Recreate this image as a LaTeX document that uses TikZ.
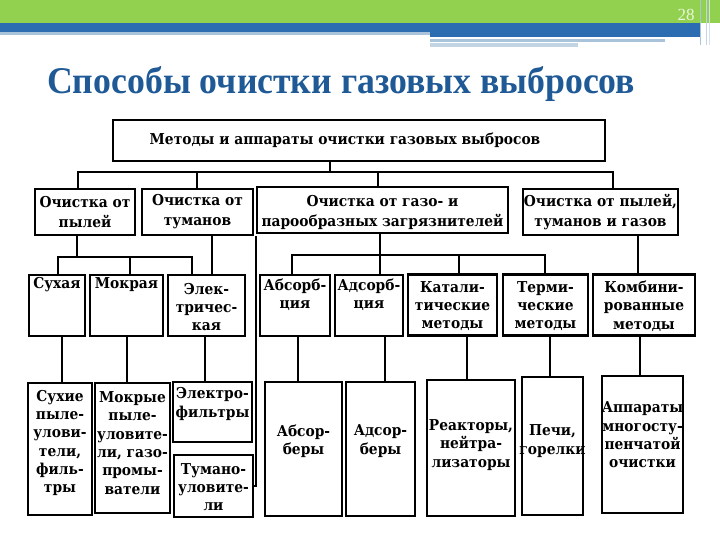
\documentclass[tikz,border=0pt]{standalone}
\usepackage{fontspec}
\setmainfont{Liberation Serif}
\newfontfamily\dgfont{DejaVu Serif}[FakeStretch=0.92]
\usepackage{graphicx}
\definecolor{slgreen}{HTML}{92D050}
\definecolor{slblue}{HTML}{2C6DB2}
\definecolor{sllight}{HTML}{A9C3DA}
\definecolor{sltitle}{HTML}{1F5A96}
\definecolor{slnum}{HTML}{EAF6DA}
\begin{document}
\begin{tikzpicture}[x=1pt,y=-1pt,
  bx/.style={draw, line width=2.4pt, inner sep=0pt},
  tx/.style={align=center, inner sep=0pt, font=\dgfont\bfseries\fontsize{15}{18.3}\selectfont},
  tw/.style={tx, font=\dgfont\bfseries\fontsize{15}{20}\selectfont},
  ln/.style={line width=1.5pt}]
\useasboundingbox (0,0) rectangle (720,540);
\fill[white] (0,0) rectangle (720,540);
% slide header
\fill[slgreen] (0,0) rectangle (720,23);
\fill[slblue] (0,23) rectangle (700,32);
\fill[sllight] (0,32) rectangle (430,35);
\fill[slblue] (430,32) rectangle (700,37);
\fill[sllight] (430,39) rectangle (665,42);
\fill[sllight!70] (430,43) rectangle (578,47);
\draw[sllight, line width=1pt] (700,0) -- (700,45);
\draw[sllight!70, line width=1pt] (706,0) -- (706,45);
\draw[sllight!50, line width=1pt] (709,0) -- (709,45);
\node[text=slnum, font=\fontsize{17}{17}\selectfont, inner sep=0pt] (pg) at (686,15) {28};
\node[anchor=base west, inner sep=0pt, text=sltitle] (title) at (47,94)
  {\resizebox{588pt}{27pt}{\bfseries Способы очистки газовых выбросов}};
% boxes
\node[bx, minimum width=492pt, minimum height=41pt] (top) at (359,140.5) {};
\node[bx, minimum width=100pt, minimum height=46pt] (b1) at (85,212) {};
\node[bx, minimum width=111pt, minimum height=46pt] (b2) at (197.5,212) {};
\node[bx, minimum width=251pt, minimum height=46pt] (b3) at (382.5,210) {};
\node[bx, minimum width=155pt, minimum height=46pt] (b4) at (600.5,212) {};
\node[bx, minimum width=56pt, minimum height=61pt] (c1) at (57,305.5) {};
\node[bx, minimum width=73pt, minimum height=61pt] (c2) at (126.5,305.5) {};
\node[bx, minimum width=77pt, minimum height=61pt] (c3) at (206.5,305.5) {};
\node[bx, minimum width=70pt, minimum height=61pt] (c4) at (295,305.5) {};
\node[bx, minimum width=68pt, minimum height=61pt] (c5) at (369,305.5) {};
\node[bx, minimum width=89pt, minimum height=61pt] (c6) at (452.5,305) {};
\node[bx, minimum width=85pt, minimum height=61pt] (c7) at (545.5,305) {};
\node[bx, minimum width=102pt, minimum height=61pt] (c8) at (644,305) {};
\node[bx, minimum width=64pt, minimum height=132pt] (d1) at (60,449) {};
\node[bx, minimum width=75pt, minimum height=130pt] (d2) at (132.5,448) {};
\node[bx, minimum width=79pt, minimum height=60pt] (d3) at (212.5,412) {};
\node[bx, minimum width=79pt, minimum height=62pt] (d4) at (213.5,486) {};
\node[bx, minimum width=77pt, minimum height=134pt] (d5) at (303.5,449) {};
\node[bx, minimum width=69pt, minimum height=134pt] (d6) at (380.5,449) {};
\node[bx, minimum width=88pt, minimum height=136pt] (d7) at (471,448) {};
\node[bx, minimum width=61pt, minimum height=138pt] (d8) at (552.5,446) {};
\node[bx, minimum width=81pt, minimum height=137pt] (d9) at (642.5,444.5) {};
% texts
\node[tx] (ttop) at (345,140) {Методы и аппараты очистки газовых выбросов};
\node[tw] (tb1) at (85,212) {Очистка от\\пылей};
\node[tw] (tb2) at (197.5,212) {Очистка от\\туманов};
\node[tw] (tb3) at (382.5,212) {Очистка от газо- и\\парообразных загрязнителей};
\node[tw] (tb4) at (600.5,212) {Очистка от пылей,\\туманов и газов};
\node[tx] (tc1) at (57,285) {Сухая};
\node[tx] (tc2) at (126.5,285) {Мокрая};
\node[tx] (tc3) at (206.5,307) {Элек-\\тричес-\\кая};
\node[tx] (tc4) at (295,295) {Абсорб-\\ция};
\node[tx] (tc5) at (369,295) {Адсорб-\\ция};
\node[tx] (tc6) at (452.5,306) {Катали-\\тические\\методы};
\node[tx] (tc7) at (545.5,306) {Терми-\\ческие\\методы};
\node[tx] (tc8) at (644,306) {Комбини-\\рованные\\методы};
\node[tx] (td1) at (60,443) {Сухие\\пыле-\\улови-\\тели,\\филь-\\тры};
\node[tx] (td2) at (132.5,443) {Мокрые\\пыле-\\уловите-\\ли, газо-\\промы-\\ватели};
\node[tx] (td3) at (212.5,404) {Электро-\\фильтры};
\node[tx] (td4) at (213.5,487) {Тумано-\\уловите-\\ли};
\node[tx] (td5) at (303.5,441) {Абсор-\\беры};
\node[tx] (td6) at (380.5,441) {Адсор-\\беры};
\node[tx] (td7) at (471,445) {Реакторы,\\нейтра-\\лизаторы};
\node[tx] (td8) at (552.5,441) {Печи,\\горелки};
\node[tx] (td9) at (642.5,435) {Аппараты\\многосту-\\пенчатой\\очистки};
% connectors level 1
\coordinate (s0) at (330,172);
\coordinate (t1) at (78,172);
\coordinate (t2) at (613,172);
\coordinate (s2) at (197,172);
\coordinate (s3) at (378,172);
\draw[ln] (s0 |- top.south) -- (s0);
\draw[ln] (t1 |- b1.north) -- (t1) -- (t2) -- (t2 |- b4.north);
\draw[ln] (s2) -- (s2 |- b2.north);
\draw[ln] (s3) -- (s3 |- b3.north);
% level 2: dust
\coordinate (u0) at (77,257);
\coordinate (u1) at (58,257);
\coordinate (u2) at (130,257);
\coordinate (u3) at (192,257);
\draw[ln] (u0 |- b1.south) -- (u0);
\draw[ln] (u1 |- c1.north) -- (u1) -- (u3) -- (u3 |- c3.north);
\draw[ln] (u2) -- (u2 |- c2.north);
% level 2: mists
\coordinate (v1) at (212,0);
\coordinate (v2) at (256,0);
\draw[ln] (v1 |- b2.south) -- (v1 |- c3.north);
\draw[ln] (v2 |- b2.south) -- (v2 |- d4.east) -- (d4.east);
% level 2: gases
\coordinate (w0) at (380,255);
\coordinate (w1) at (292,255);
\coordinate (w3) at (459,255);
\coordinate (w4) at (545,255);
\coordinate (w5) at (638,0);
\draw[ln] (w0 |- b3.south) -- (w0) -- (w0 |- c5.north);
\draw[ln] (w1 |- c4.north) -- (w1) -- (w4) -- (w4 |- c7.north);
\draw[ln] (w3) -- (w3 |- c6.north);
\draw[ln] (w5 |- b4.south) -- (w5 |- c8.north);
% level 3
\coordinate (z1) at (62,0);
\coordinate (z2) at (127,0);
\coordinate (z3) at (205,0);
\coordinate (z4) at (298,0);
\coordinate (z5) at (385,0);
\coordinate (z6) at (467,0);
\coordinate (z7) at (550,0);
\coordinate (z8) at (640,0);
\draw[ln] (z1 |- c1.south) -- (z1 |- d1.north);
\draw[ln] (z2 |- c2.south) -- (z2 |- d2.north);
\draw[ln] (z3 |- c3.south) -- (z3 |- d3.north);
\draw[ln] (z4 |- c4.south) -- (z4 |- d5.north);
\draw[ln] (z5 |- c5.south) -- (z5 |- d6.north);
\draw[ln] (z6 |- c6.south) -- (z6 |- d7.north);
\draw[ln] (z7 |- c7.south) -- (z7 |- d8.north);
\draw[ln] (z8 |- c8.south) -- (z8 |- d9.north);
\end{tikzpicture}
\end{document}
